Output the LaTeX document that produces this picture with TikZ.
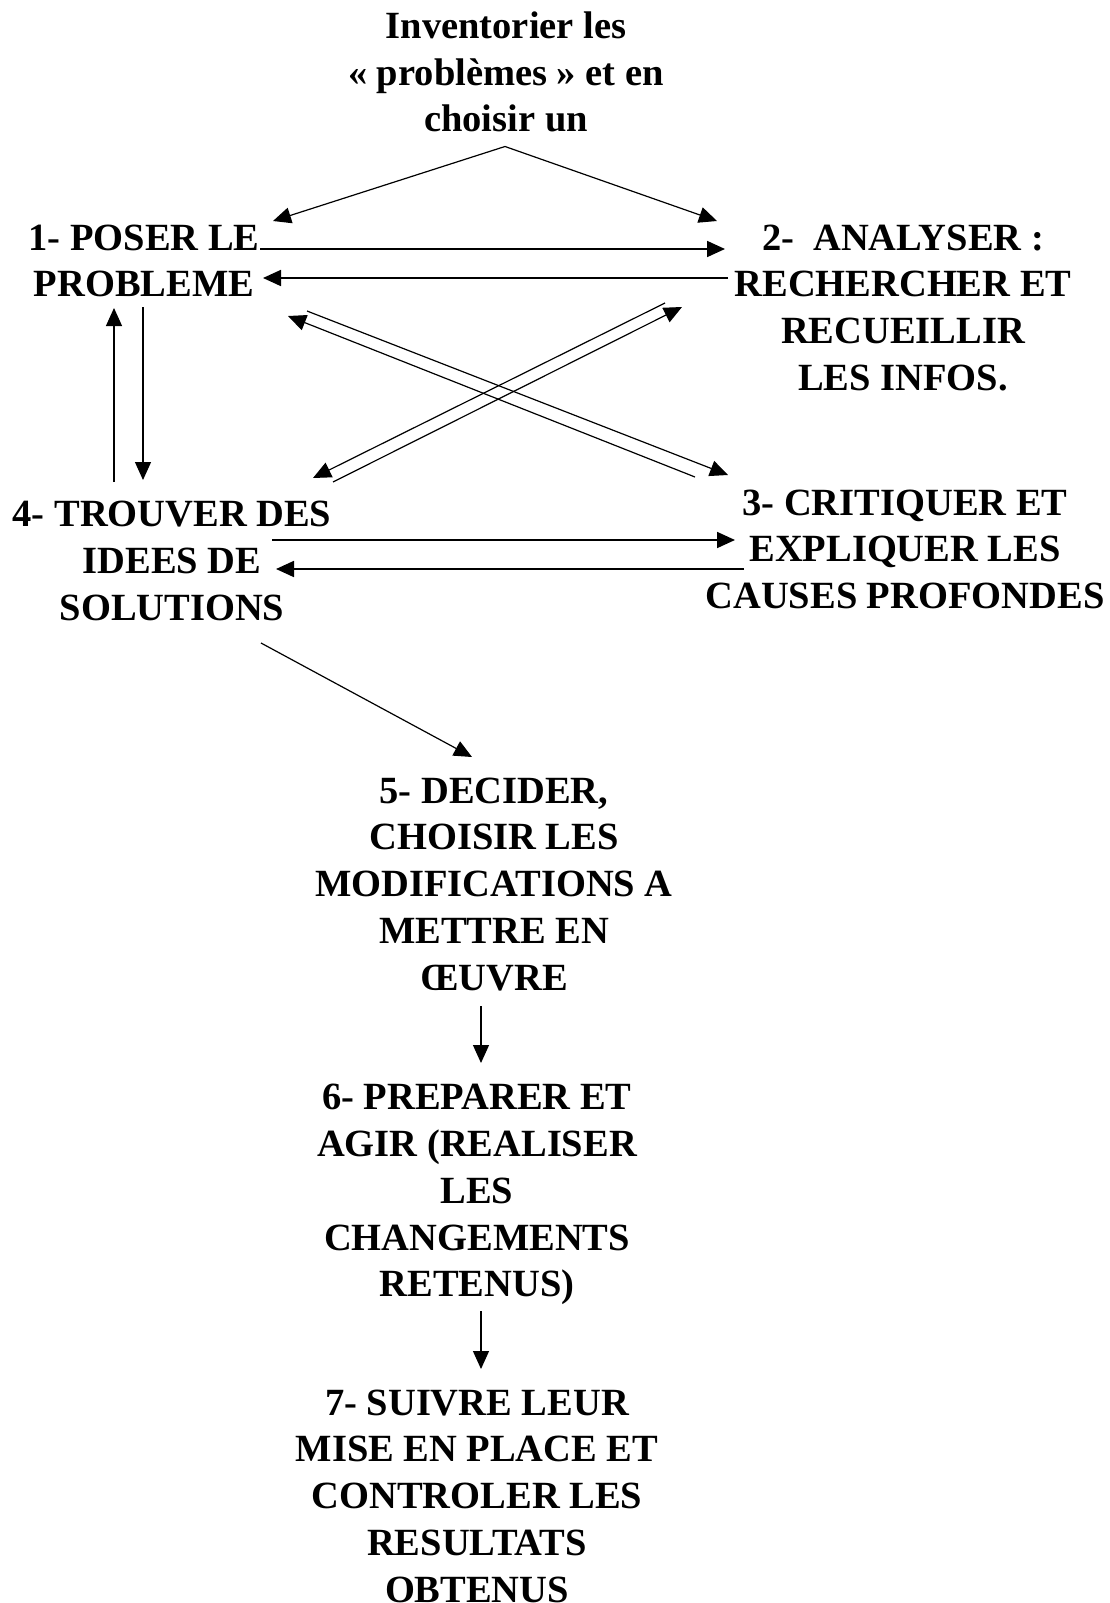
\documentclass[tikz,border=0pt]{standalone}
\usepackage{fontspec}
\setmainfont{Liberation Serif}
\usetikzlibrary{arrows.meta}
\newcommand\fs{\fontsize{38.5pt}{46.7pt}\selectfont\bfseries}
\begin{document}
\begin{tikzpicture}[x=1pt,y=-1pt,
  lbl/.style={font=\fs, align=center, inner sep=0pt, anchor=north},
  thinarr/.style={line width=1.2pt, -{Triangle[length=18pt,width=16pt]}},
  thickarr/.style={line width=1.8pt, -{Triangle[length=18pt,width=16pt]}}]
\useasboundingbox[fill=white] (0,0) rectangle (1110,1603);

% nodes
\node[lbl] (top) at (506,5.6) {\strut Inventorier les\\« problèmes » et en\\choisir un};
\node[lbl] (n1) at (144,217.3) {\strut 1- POSER LE\\PROBLEME};
\node[lbl] (n2) at (903,217.3) {\strut 2-\ \ ANALYSER :\\RECHERCHER ET\\RECUEILLIR\\LES INFOS.};
\node[lbl] (n3) at (905,482.3) {\strut 3- CRITIQUER ET\\EXPLIQUER LES\\CAUSES PROFONDES};
\node[lbl] (n4) at (172,494) {\strut 4- TROUVER DES\\IDEES DE\\SOLUTIONS};
\node[lbl] (n5) at (494,770.3) {\strut 5- DECIDER,\\CHOISIR LES\\MODIFICATIONS A\\METTRE EN\\ŒUVRE};
\node[lbl] (n6) at (477,1077) {\strut 6- PREPARER ET\\AGIR (REALISER\\LES\\CHANGEMENTS\\RETENUS)};
\node[lbl] (n7) at (477,1382.3) {\strut 7- SUIVRE LEUR\\MISE EN PLACE ET\\CONTROLER LES\\RESULTATS\\OBTENUS};

% connector end points
\coordinate (apex) at (505,146.5);
\coordinate (t1) at (273,221);
\coordinate (t2) at (717,221);
\coordinate (a12s) at (260,249);  \coordinate (a12e) at (725,249);
\coordinate (a21s) at (728,278);  \coordinate (a21e) at (263,278);
\coordinate (a41s) at (114,482);  \coordinate (a41e) at (114,308);
\coordinate (a14s) at (143,307);  \coordinate (a14e) at (143,480);
\coordinate (a13s) at (307,311);  \coordinate (a13e) at (728,475);
\coordinate (a31s) at (695,477);  \coordinate (a31e) at (288,316);
\coordinate (a42s) at (333,482);  \coordinate (a42e) at (682,307);
\coordinate (a24s) at (665,303);  \coordinate (a24e) at (313,478);
\coordinate (a43s) at (272,540);  \coordinate (a43e) at (735,540);
\coordinate (a34s) at (744,569);  \coordinate (a34e) at (276,569);
\coordinate (a45s) at (261,643);  \coordinate (a45e) at (472,757);
\coordinate (a56s) at (481,1006); \coordinate (a56e) at (481,1063);
\coordinate (a67s) at (481,1311); \coordinate (a67e) at (481,1369);

% connectors
\draw[thinarr] (apex) -- (t1);
\draw[thinarr] (apex) -- (t2);
\draw[thickarr] (a12s) -- (a12e);
\draw[thickarr] (a21s) -- (a21e);
\draw[thinarr] (a41s) -- (a41e);
\draw[thinarr] (a14s) -- (a14e);
\draw[thinarr] (a13s) -- (a13e);
\draw[thinarr] (a31s) -- (a31e);
\draw[thinarr] (a42s) -- (a42e);
\draw[thinarr] (a24s) -- (a24e);
\draw[thickarr] (a43s) -- (a43e);
\draw[thickarr] (a34s) -- (a34e);
\draw[thinarr] (a45s) -- (a45e);
\draw[thinarr] (a56s) -- (a56e);
\draw[thinarr] (a67s) -- (a67e);
\end{tikzpicture}
\end{document}
